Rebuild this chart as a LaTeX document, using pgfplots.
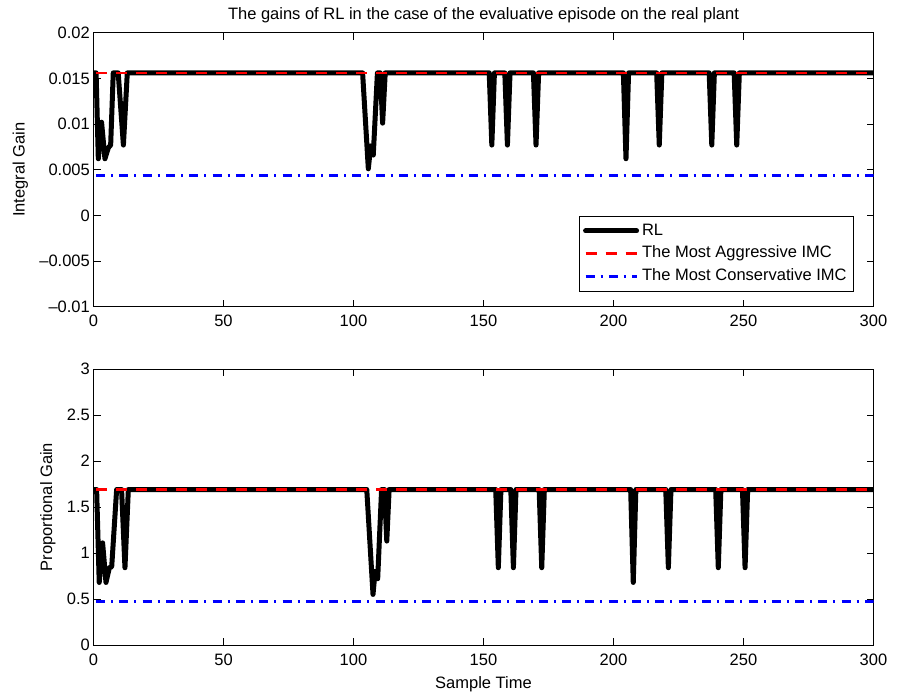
\documentclass[border=0pt]{standalone}
\usepackage{fontspec}
\setmainfont{Liberation Sans}
\usepackage{pgfplots}
\pgfplotsset{compat=1.18}
\newcommand{\fs}{\fontsize{16.5}{19.8}\selectfont}
\pgfplotsset{
  mystyle/.style={
    scale only axis, width=780pt,
    xmin=0, xmax=300, xtick={0,50,100,150,200,250,300},
    tick align=inside, major tick length=7pt,
    axis line style={line width=0.9pt},
    every tick/.style={line width=0.9pt, black},
    tick label style={font=\fs},
    label style={font=\fs},
    /pgf/number format/assume math mode=true,
    scaled y ticks=false,
    xticklabel style={yshift=-3pt},
    yticklabel style={xshift=2pt},
    legend image code/.code={\draw[##1] (0pt,0pt) -- (51pt,0pt);},
  },
  rl/.style={black, line width=5pt, line join=round, line cap=round},
  agg/.style={red, line width=2.7pt, dash pattern=on 11pt off 9pt},
  con/.style={blue, line width=2.7pt, dash pattern=on 9pt off 6pt on 2pt off 6.3pt},
}
\begin{document}
\fs
\begin{tikzpicture}[x=1pt,y=1pt]
\useasboundingbox (0,0) rectangle (899,694);
\begin{axis}[mystyle, at={(93.5pt,387.3pt)}, anchor=south west, height=274pt,
  ymin=-0.01, ymax=0.02,
  ytick={-0.01,-0.005,0,0.005,0.01,0.015,0.02},
  yticklabels={{–0.01},{–0.005},0,0.005,0.01,0.015,0.02},
  ylabel={Integral Gain},
  title={The gains of RL in the case of the evaluative episode on the real plant},
  title style={font=\fs, yshift=-2pt},
  legend cell align=left,
  legend style={at={(1,0)}, anchor=south east, xshift=-19.5pt, yshift=15pt,
    draw=black, line width=0.9pt, fill=white, font=\fs,
    inner xsep=4pt, inner ysep=6pt, row sep=5.3pt,
    nodes={inner xsep=3pt, inner ysep=1pt, text height=12pt, text depth=3.5pt}},
]
\addplot[rl] coordinates {
(0,0.0156) (1,0.0156) (1.85,0.0062) (3.1,0.0102) (4.4,0.0062) (5.7,0.0074) (6.6,0.0077)
(7.6,0.0156) (9.5,0.0156) (11.5,0.0077) (13,0.0156)
(103.5,0.0156) (105.7,0.0051) (106.6,0.0076) (107.6,0.0066) (109.2,0.0156)
(110.3,0.0156) (111.2,0.0101) (112.2,0.0156)
(152.2,0.0156) (153.2,0.0077) (154.2,0.0156)
(158.2,0.0156) (159.2,0.0077) (160.2,0.0156)
(169.2,0.0156) (170.2,0.0077) (171.2,0.0156)
(203.8,0.0156) (204.8,0.0062) (205.8,0.0156)
(216.6,0.0156) (217.6,0.0077) (218.6,0.0156)
(236.8,0.0156) (237.8,0.0077) (238.8,0.0156)
(246.4,0.0156) (247.4,0.0077) (248.4,0.0156)
(300,0.0156)
};
\addlegendentry{RL}
\addplot[agg] coordinates {(1,0.0156) (300,0.0156)};
\addlegendentry{The Most Aggressive IMC}
\addplot[con] coordinates {(1,0.0044) (300,0.0044)};
\addlegendentry{The Most Conservative IMC}
\end{axis}
\begin{axis}[mystyle, at={(93.5pt,49pt)}, anchor=south west, height=276pt,
  ymin=0, ymax=3,
  ytick={0,0.5,1,1.5,2,2.5,3},
  yticklabels={0,0.5,1,1.5,2,2.5,3},
  ylabel={Proportional Gain},
  xlabel={Sample Time},
]
\addplot[rl] coordinates {
(0,1.69) (1.2,1.69) (2.2,0.68) (3.5,1.11) (4.8,0.68) (6.1,0.84) (7.0,0.85)
(8.9,1.69) (10.8,1.69) (12.1,0.84) (13.4,1.69)
(105.1,1.69) (107.5,0.55) (108.3,0.80) (109.3,0.72) (110.8,1.69)
(111.9,1.69) (112.8,1.13) (113.7,1.69)
(154.7,1.69) (155.7,0.84) (156.7,1.69)
(160.5,1.69) (161.5,0.84) (162.5,1.69)
(171.4,1.69) (172.4,0.84) (173.4,1.69)
(206.6,1.69) (207.6,0.68) (208.6,1.69)
(220.1,1.69) (221.1,0.84) (222.1,1.69)
(239.3,1.69) (240.3,0.84) (241.3,1.69)
(249.6,1.69) (250.6,0.84) (251.6,1.69)
(300,1.69)
};
\addplot[agg] coordinates {(1,1.69) (300,1.69)};
\addplot[con] coordinates {(1,0.47) (300,0.47)};
\end{axis}
\end{tikzpicture}
\end{document}
